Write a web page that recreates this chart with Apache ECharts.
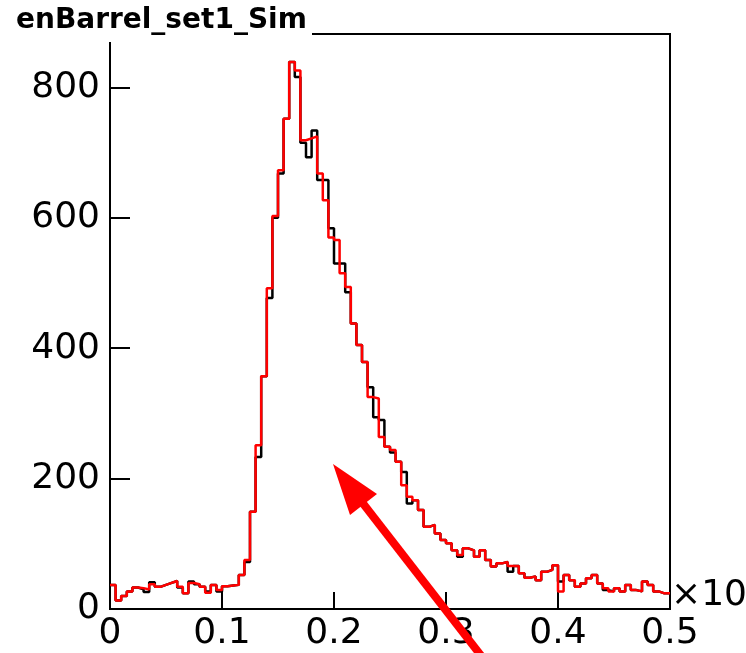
<!DOCTYPE html>
<html>
<head>
<meta charset="utf-8">
<script src="https://cdn.jsdelivr.net/npm/echarts@6/dist/echarts.min.js"></script>
<style>html,body{margin:0;padding:0;background:#fff;}#c{width:746px;height:653px;}</style>
</head>
<body>
<div id="c"></div>
<script>
// Histogram: 100 bins from 0 to 0.5
const binLow = 0;
const binWidth = 0.005;
const redCounts = [37,13,20,27,33,32,30,38,34,37,40,43,34,24,40,38,34,25,37,29,
  35,36,37,52,75,149,251,357,492,603,673,752,839,826,719,722,725,668,627,570,
  566,515,494,438,405,379,325,323,264,249,244,226,190,172,167,152,126,129,116,106,
  101,90,83,93,90,80,90,75,65,70,72,66,66,55,48,50,44,57,60,67,
  27,52,44,34,39,47,52,39,32,27,32,27,37,29,27,42,37,27,24,24];
const blackCounts = [37,13,20,27,33,30,26,41,34,37,40,43,33,24,42,38,34,27,37,27,
  35,36,37,52,72,149,233,357,477,600,668,752,839,816,715,693,734,658,658,584,
  530,530,486,438,405,379,340,294,290,249,240,226,210,162,167,152,126,129,116,106,
  101,90,80,93,90,80,90,75,65,70,72,57,66,55,48,50,44,57,60,67,
  42,52,44,34,39,47,52,39,29,27,32,27,37,29,27,42,37,27,24,24];
const xTicks = [0, 0.1, 0.2, 0.3, 0.4, 0.5];
const yTicks = [0, 200, 400, 600, 800];
const yMax = 882;
const titleText = 'enBarrel_set1_Sim';
const expText = '×10';

function stepData(counts) {
  const d = counts.map((v, i) => [binLow + i * binWidth, v]);
  d.push([binLow + counts.length * binWidth, counts[counts.length - 1]]);
  return d;
}

const chart = echarts.init(document.getElementById('c'), null, {renderer: 'canvas'});
const labelFont = 'DejaVu Sans';
chart.setOption({
  animation: false,
  backgroundColor: '#fff',
  grid: {left: 110, right: 76, top: 34, bottom: 44, show: true, borderColor: '#000', borderWidth: 2, containLabel: false},
  xAxis: {
    type: 'value', min: xTicks[0], max: xTicks[xTicks.length - 1], interval: 0.1,
    axisLine: {show: true, lineStyle: {color: '#000', width: 2}},
    axisTick: {show: true, inside: true, length: 17, lineStyle: {color: '#000', width: 2}},
    axisLabel: {fontFamily: labelFont, fontSize: 36, color: '#000', margin: 7,
      formatter: v => String(+(+v).toFixed(1))},
    splitLine: {show: false}
  },
  yAxis: {
    type: 'value', min: yTicks[0], max: yMax, interval: 200,
    axisLine: {show: true, lineStyle: {color: '#000', width: 2}},
    axisTick: {show: true, inside: true, length: 20, lineStyle: {color: '#000', width: 2}},
    axisLabel: {fontFamily: labelFont, fontSize: 36, color: '#000', margin: 10, showMaxLabel: false,
      formatter: v => (yTicks.indexOf(v) >= 0 ? String(v) : '')},
    splitLine: {show: false}
  },
  series: [
    {type: 'line', data: stepData(blackCounts), step: 'end', symbol: 'none',
      lineStyle: {color: '#000', width: 2.5}, z: 2},
    {type: 'line', data: stepData(redCounts), step: 'end', symbol: 'none',
      lineStyle: {color: '#ff0000', width: 2.5}, z: 3}
  ],
  graphic: [
    {type: 'rect', z: 100, shape: {x: 0, y: 0, width: 312, height: 42}, style: {fill: '#fff'}},
    {type: 'text', z: 101, x: 16, y: 21, style: {text: titleText, fontFamily: 'DejaVu Sans', fontWeight: 'bold', fontSize: 28, fill: '#000', verticalAlign: 'middle', align: 'left'}},
    {type: 'text', z: 101, x: 671, y: 596, style: {
      text: '{a|' + expText + '}{b|−3}',
      rich: {a: {fontFamily: labelFont, fontSize: 36, fill: '#000', color: '#000'},
             b: {fontFamily: labelFont, fontSize: 22, color: '#000', verticalAlign: 'top', padding: [0, 0, 18, 0]}},
      verticalAlign: 'middle', align: 'left'}},
    {type: 'line', z: 102, shape: {x1: 358, y1: 497, x2: 486, y2: 662}, style: {stroke: '#ff0000', lineWidth: 8}},
    {type: 'polygon', z: 103, shape: {points: [[333, 464], [377, 494], [350, 515]]}, style: {fill: '#ff0000'}}
  ]
});
</script>
</body>
</html>
